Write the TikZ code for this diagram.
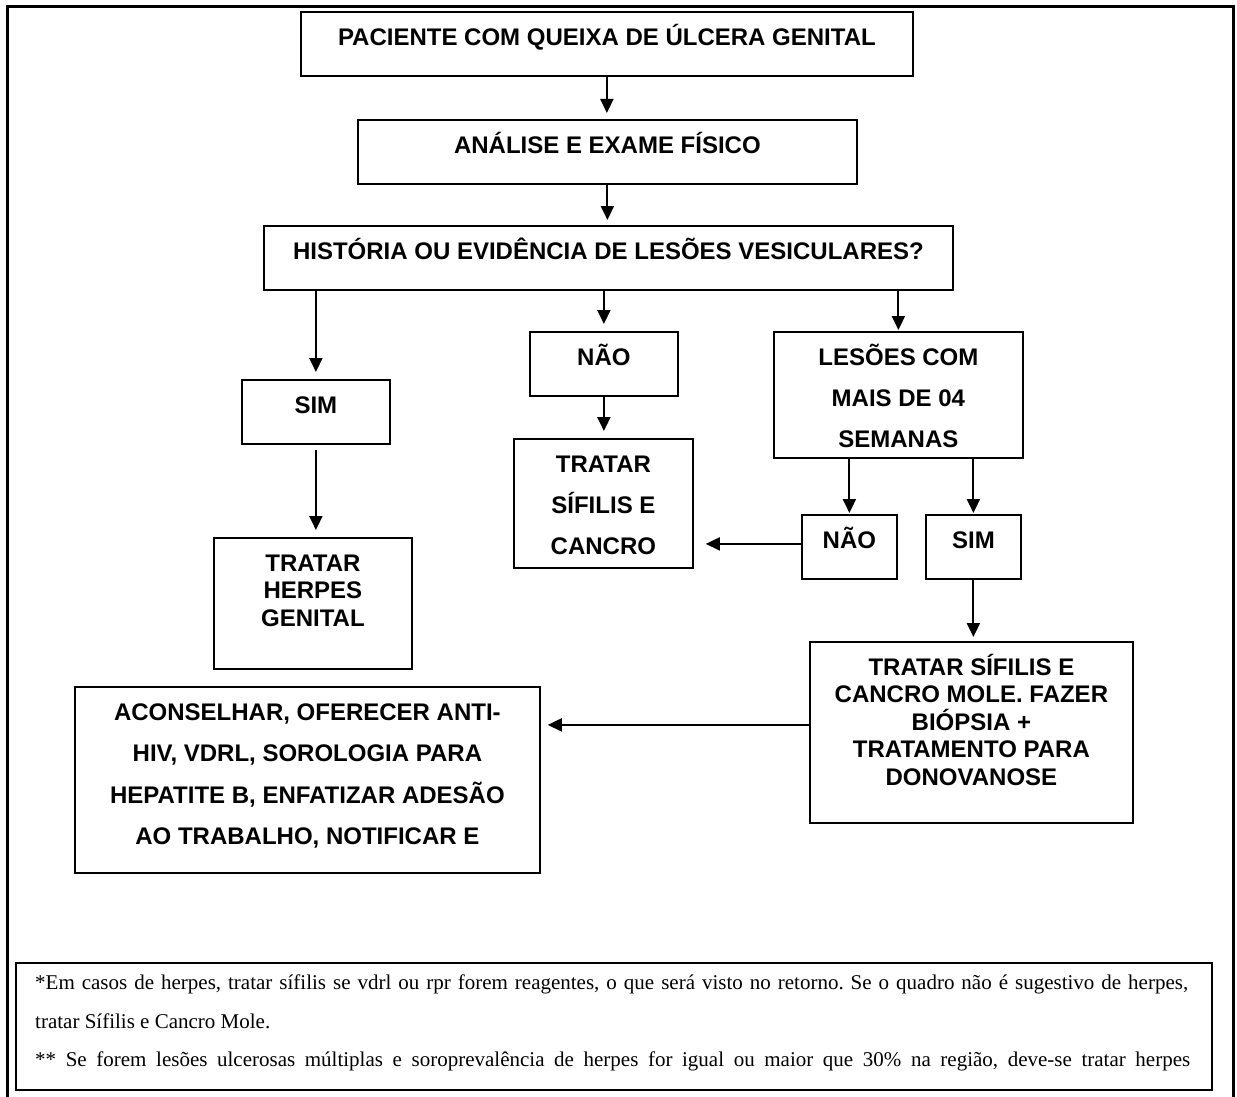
\documentclass[tikz,border=0pt]{standalone}
\usepackage{fontspec}
\setmainfont{Liberation Serif}
\setsansfont{Liberation Sans}
\usetikzlibrary{arrows.meta}

\makeatletter
\newcommand\boxtxt[4]{\vbox to #2{\hsize=#1\relax\linewidth=#1\relax\centering\parskip=0pt\relax
  \lineskiplimit=-100pt\relax\sffamily\bfseries\fontsize{24pt}{#3}\selectfont
  \vskip 8.5pt\relax\rule{0pt}{25pt}#4\par\vfill}}
\makeatother

\tikzset{
  bx/.style={draw, line width=1.8pt, inner sep=0pt, anchor=north west},
  arr/.style={line width=2pt, -{Triangle[length=14pt,width=13pt]}},
  fn/.style={anchor=base west, inner sep=0pt, font=\fontsize{21pt}{25pt}\selectfont\frenchspacing}
}

\begin{document}
\begin{tikzpicture}[x=1pt,y=-1pt]
\useasboundingbox (0,0) rectangle (1237,1097);
\fill[white] (0,0) rectangle (1237,1097);
% outer frame
\draw[line width=3pt] (7,1105) -- (7,7) -- (1233,7) -- (1233,1105);

% boxes
\node[bx] (pac)  at (300,11)  {\boxtxt{612pt}{64pt}{27.5pt}{PACIENTE COM QUEIXA DE ÚLCERA GENITAL}};
\node[bx] (ana)  at (357,119) {\boxtxt{499pt}{64pt}{27.5pt}{ANÁLISE E EXAME FÍSICO}};
\node[bx] (his)  at (263,225) {\boxtxt{689pt}{64pt}{27.5pt}{HISTÓRIA OU EVIDÊNCIA DE LESÕES VESICULARES?}};
\node[bx] (sim)  at (241,379) {\boxtxt{148pt}{64pt}{27.5pt}{SIM}};
\node[bx] (nao)  at (529,331) {\boxtxt{148pt}{64pt}{27.5pt}{NÃO}};
\node[bx] (herp) at (213,537) {\boxtxt{198pt}{131pt}{27.5pt}{TRATAR\\HERPES\\GENITAL}};
\node[bx] (sif)  at (513,438) {\boxtxt{179pt}{129pt}{41pt}{TRATAR\\SÍFILIS E\\CANCRO}};
\node[bx] (les)  at (773,331) {\boxtxt{249pt}{126pt}{41pt}{LESÕES COM\\MAIS DE 04\\SEMANAS}};
\node[bx] (nao2) at (801,514) {\boxtxt{95pt}{64pt}{27.5pt}{NÃO}};
\node[bx] (sim2) at (925,514) {\boxtxt{95pt}{64pt}{27.5pt}{SIM}};
\node[bx] (trat) at (809,641) {\boxtxt{323pt}{181pt}{27.5pt}{TRATAR SÍFILIS E\\CANCRO MOLE. FAZER\\BIÓPSIA +\\TRATAMENTO PARA\\DONOVANOSE}};
\node[bx] (acon) at (74,686)  {\boxtxt{465pt}{186pt}{41.3pt}{ACONSELHAR, OFERECER ANTI-\\HIV, VDRL, SOROLOGIA PARA\\HEPATITE B, ENFATIZAR ADESÃO\\AO TRABALHO, NOTIFICAR E}};

% connectors
\draw[arr, shorten >=6pt] (pac.south) -- (pac.south |- ana.north);
\draw[arr, shorten >=5pt] (ana.south) -- (ana.south |- his.north);
\draw[arr, shorten >=7pt] (his.south -| sim.north) -- (sim.north);
\draw[arr, shorten >=7pt] (his.south -| nao.north) -- (nao.north);
\draw[arr, shorten >=1pt] (his.south -| les.north) -- (les.north);
\draw[arr, shorten <=5pt, shorten >=7pt] (sim.south) -- (sim.south |- herp.north);
\draw[arr, shorten >=7pt] (nao.south) -- (nao.south |- sif.north);
\draw[arr, shorten >=1pt] (les.south -| nao2.north) -- (nao2.north);
\draw[arr, shorten >=1pt] (les.south -| sim2.north) -- (sim2.north);
\draw[arr, shorten >=12pt] ([yshift=3pt]nao2.west) -- ([yshift=3pt]nao2.west -| sif.east);
\draw[arr, shorten >=4pt] (sim2.south) -- (sim2.south |- trat.north);
\draw[arr, shorten >=7pt] ([yshift=7.5pt]trat.west) -- ([yshift=7.5pt]trat.west -| acon.east);

% footnote box
\draw[line width=2.5pt] (16,963) rectangle (1212,1090);
\node[fn] (fn1) at (35,989) {\makebox[1153pt][s]{*Em casos de herpes, tratar sífilis se vdrl ou rpr forem reagentes, o que será visto no retorno. Se o quadro não é sugestivo de herpes,}};
\node[fn] (fn2) at (35,1028) {tratar Sífilis e Cancro Mole.};
\node[fn] (fn3) at (35,1066) {\makebox[1155pt][s]{** Se forem lesões ulcerosas múltiplas e soroprevalência de herpes for igual ou maior que 30\% na região, deve-se tratar herpes}};
\end{tikzpicture}
\end{document}
